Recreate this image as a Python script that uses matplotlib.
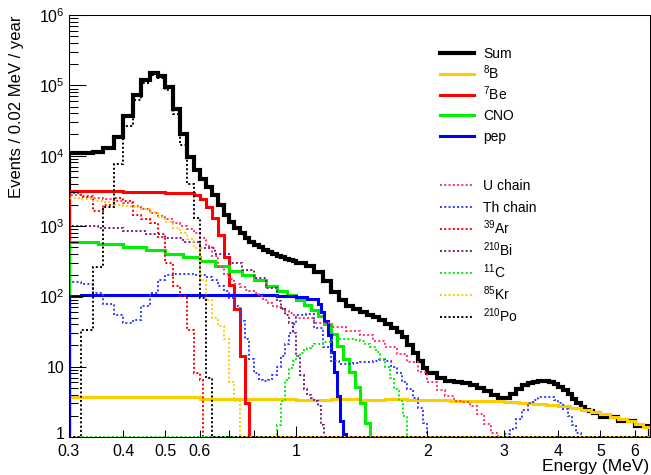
import matplotlib
matplotlib.use('Agg')
import matplotlib.pyplot as plt
import numpy as np
from matplotlib.lines import Line2D
from matplotlib.transforms import ScaledTranslation
from matplotlib.ticker import FixedLocator, FixedFormatter, FuncFormatter, NullFormatter

plt.rcParams['font.family'] = ['Liberation Sans', 'DejaVu Sans']
plt.rcParams['mathtext.fontset'] = 'custom'
plt.rcParams['mathtext.rm'] = 'Liberation Sans'
plt.rcParams['mathtext.it'] = 'Liberation Sans:italic'
plt.rcParams['mathtext.bf'] = 'Liberation Sans:bold'

YMIN, YMAX = 1.0, 1e6
XMIN, XMAX = 0.3, 6.5
W, H = 651, 475


def grid(*parts):
    # bin edges from (start, stop, width) pieces, (start, stop) = one bin
    edges = []
    for p in parts:
        a, b = p[0], p[1]
        w = p[2] if len(p) > 2 else b - a
        n = int(round((b - a) / w))
        edges.extend(np.round(a + w * np.arange(n), 4))
    edges.append(parts[-1][1])
    return np.array(edges)


# ---- histograms (events / 0.02 MeV / year) ----
sum_edges = grid((0.30, 1.00, 0.02), (1.00, 2.00, 0.05), (2.00, 4.80, 0.1),
                 (4.80, 5.00), (5.00, 6.50, 0.5))
sum_vals = [1.08e4, 1.09e4, 1.12e4, 1.27e4, 1.86e4, 3.66e4, 7.3e4, 1.19e5, 1.50e5, 1.37e5,
            9.5e4, 4.6e4, 2.0e4, 9.6e3, 6.2e3, 4.7e3, 3.6e3, 2.8e3, 2.0e3, 1.45e3,
            1.15e3, 930, 790, 680, 600, 540, 495, 460, 425, 400,
            380, 360, 345, 330, 315,
            300, 270, 225, 165, 115, 88, 72, 65, 60, 55,
            51, 46, 41, 36, 31, 26, 20, 15.5, 12, 9.5,
            8.0, 6.9, 6.3, 6.1, 5.9, 5.5, 5.0, 4.5, 4.0, 3.6,
            3.6, 4.1, 4.8, 5.4, 5.8, 6.0, 6.2, 6.25, 6.0, 5.6,
            5.1, 4.6, 4.1, 3.5, 3.0, 2.65, 2.45, 2.35,
            2.2, 1.95, 1.7, 1.45]

b8_edges = grid((0.3, 1.0, 0.1), (1.0, 2.0, 0.2), (2.0, 6.5, 0.25))
b8_vals = [3.7, 3.75, 3.65, 3.5, 3.45, 3.5, 3.45,
           3.4, 3.45, 3.4, 3.45, 3.35,
           3.4, 3.3, 3.25, 3.2, 3.1, 3.05, 2.95, 2.85, 2.75, 2.6, 2.45, 2.3,
           2.1, 1.95, 1.8, 1.7, 1.55, 1.4]

be7_edges = [0.30, 0.40, 0.50, 0.58, 0.60, 0.62, 0.64, 0.66, 0.68, 0.70, 0.72, 0.74, 0.76, 0.78]
be7_vals = [3.1e3, 3.05e3, 2.95e3, 2.76e3, 2.42e3, 1.88e3, 1.29e3, 745, 366, 146, 67, 14, 3.0]

cno_edges = grid((0.30, 1.00, 0.05), (1.00, 1.48, 0.04))
cno_vals = [600, 550, 500, 450, 405, 365, 320, 270, 230, 200, 170, 142, 120, 103,
            88, 76, 64, 52, 40, 29, 19.5, 13, 8.5, 5.2, 3.0, 1.6]

pep_edges = [0.30, 0.32, 0.50, 0.70, 0.90, 1.00, 1.06, 1.12, 1.14, 1.16, 1.18,
             1.20, 1.22, 1.24, 1.26, 1.28, 1.30]
pep_vals = [100, 106, 105, 104, 101, 97, 92, 78, 60, 44, 28, 16, 8.5, 3.8, 1.7, 1.1]

u_edges = grid((0.30, 1.00, 0.02), (1.00, 2.90, 0.1), (2.90, 6.50))
u_vals = [2.75e3, 2.65e3, 2.5e3, 2.4e3, 2.25e3, 2.15e3, 1.95e3, 1.75e3, 1.55e3, 1.4e3,
          1.25e3, 1.1e3, 1.0e3, 920, 800, 680, 520, 380, 260, 205,
          175, 150, 135, 125, 118, 110, 100, 90, 80, 74,
          70, 66, 62, 58, 55,
          50, 42, 37, 32, 28, 23, 19, 15, 11.5, 8.5,
          6.0, 4.6, 3.8, 3.3, 3.1, 2.8, 2.1, 1.55, 1.15,
          0]

th_edges = grid((0.30, 1.00, 0.02), (1.00, 2.00, 0.05), (2.00, 3.00),
                (3.00, 4.50, 0.1), (4.50, 6.50))
th_vals = [160, 150, 110, 78, 55, 42, 46, 72, 110, 170,
           200, 210, 205, 205, 202, 200, 190, 170, 140, 120,
           95, 72, 45, 25, 13, 8, 6.5, 6.3, 6.5, 7.5,
           10, 14, 21, 30, 40,
           54, 57, 36, 19, 12, 10.8, 11, 11.2, 11.5, 11.5,
           12, 12.3, 12, 10, 8, 6, 4.8, 3.6, 2.6, 1.6,
           0,
           1.1, 1.3, 1.8, 2.4, 3.0, 3.4, 3.65, 3.75, 3.65, 3.4,
           3.0, 2.5, 2.0, 1.5, 1.15,
           0]

ar_edges = grid((0.30, 0.60, 0.02), (0.60, 0.61), (0.61, 6.50))
ar_vals = [2.9e3, 2.6e3, 1.65e3, 2.0e3, 2.5e3, 2.3e3, 1.45e3, 1.25e3, 1.1e3, 700,
           300, 140, 100, 33, 8, 6.5, 0]

bi_edges = grid((0.30, 0.90, 0.05), (0.90, 1.16, 0.02), (1.16, 6.50))
bi_vals = [1.0e3, 950, 860, 770, 680, 590, 490, 400, 300, 235, 180, 130,
           85, 68, 55, 42, 30, 14, 7.5, 4.8, 4.0, 3.6, 3.2, 2.8, 1.5,
           0]

c11_edges = grid((0.30, 0.90), (0.90, 1.10, 0.02), (1.10, 1.40, 0.05),
                 (1.40, 1.80, 0.04), (1.80, 6.50))
c11_vals = [0,
            1.5, 3.3, 6.5, 9.5, 12, 14, 15.5, 17, 18.5, 19.5,
            21, 22.5, 24, 24.5, 24.5, 24,
            23, 21, 19, 16, 13, 10, 7, 4.8, 3.2, 2.0,
            0]

kr_edges = grid((0.30, 0.74, 0.02), (0.74, 6.50))
kr_vals = [2.5e3, 2.4e3, 2.3e3, 2.2e3, 2.0e3, 1.95e3, 1.85e3, 1.75e3, 1.6e3, 1.35e3,
           1.15e3, 950, 800, 650, 480, 170, 90, 50, 38, 25, 6, 3.2, 0]

po_edges = grid((0.30, 0.64, 0.02), (0.64, 6.50))
po_vals = [0, 33, 265, 1.85e3, 7.5e3, 2.6e4, 6.25e4, 1.08e5, 1.38e5, 1.27e5,
           8.6e4, 3.9e4, 1.4e4, 4.0e3, 1.3e3, 94, 6.8, 0]

solid_labels = ['Sum', '$^{8}$B', '$^{7}$Be', 'CNO', 'pep']
dotted_labels = ['U chain', 'Th chain', '$^{39}$Ar', '$^{210}$Bi', '$^{11}$C',
                 '$^{85}$Kr', '$^{210}$Po']

x_labelled = [0.3, 0.4, 0.5, 0.6, 2, 3, 4, 5, 6]
x_minor = [0.3, 0.4, 0.5, 0.6, 0.7, 0.8, 0.9, 2, 3, 4, 5, 6]

DOTS = (0, (1, 1.2))


def draw(ax, edges, values, color, lw, ls='-'):
    # empty bins sit on the bottom frame, like ROOT does on a log axis
    v = np.asarray(values, dtype=float)
    v = np.where(v > 0, v, YMIN)
    ax.stairs(v, edges, baseline=YMIN, edgecolor=color, linewidth=lw, linestyle=ls)
    return (color, lw, ls)


def legend_block(fig, styles, labels, top, pitch):
    # frameless ROOT-like legend, one row per entry
    for i, ((color, lw, ls), lab) in enumerate(zip(styles, labels)):
        y = 1 - (top + i * pitch) / H
        fig.add_artist(Line2D([440 / W, 474 / W], [y, y], transform=fig.transFigure,
                              color=color, linewidth=lw, linestyle=ls))
        fig.text(483 / W, y - 5 / H, lab, fontsize=10, va='baseline', ha='left')


def plot_spectrum():
    fig = plt.figure(figsize=(W / 100, H / 100), dpi=100)
    ax = fig.add_axes([69 / W, 38 / H, 581 / W, 422 / H])
    ax.set_xscale('log')
    ax.set_yscale('log')

    thick = 2.2
    solid = [
        draw(ax, sum_edges, sum_vals, 'black', 3.0),
        draw(ax, b8_edges, b8_vals, '#ffcc00', thick),
        draw(ax, be7_edges, be7_vals, '#ff0000', thick),
        draw(ax, cno_edges, cno_vals, '#00ee00', thick),
        draw(ax, pep_edges, pep_vals, '#0000ff', thick),
    ]
    dotted = [
        draw(ax, u_edges, u_vals, '#ff3366', 1.4, DOTS),
        draw(ax, th_edges, th_vals, '#2f3cff', 1.4, DOTS),
        draw(ax, ar_edges, ar_vals, '#ff0000', 1.4, DOTS),
        draw(ax, bi_edges, bi_vals, '#7a1a7a', 1.4, DOTS),
        draw(ax, c11_edges, c11_vals, '#00ee00', 1.4, DOTS),
        draw(ax, kr_edges, kr_vals, '#ffcc00', 1.4, DOTS),
        draw(ax, po_edges, po_vals, 'black', 1.4, DOTS),
    ]

    ax.set_xlim(XMIN, XMAX)
    ax.set_ylim(YMIN, YMAX)

    # x axis: ROOT style labels
    ax.xaxis.set_major_locator(FixedLocator([1]))
    ax.xaxis.set_major_formatter(FixedFormatter(['1']))
    ax.xaxis.set_minor_locator(FixedLocator(x_minor))
    ax.xaxis.set_minor_formatter(FuncFormatter(
        lambda v, pos: ('%g' % v) if any(abs(v - t) < 1e-6 for t in x_labelled) else ''))
    # y axis: decades
    decades = [10.0 ** k for k in range(7)]
    ax.yaxis.set_major_locator(FixedLocator(decades))
    ax.yaxis.set_major_formatter(FixedFormatter(
        ['1', '10'] + ['$10^{%d}$' % k for k in range(2, 7)]))
    ax.yaxis.set_minor_locator(FixedLocator(
        [m * 10.0 ** k for k in range(6) for m in range(2, 10)]))
    ax.yaxis.set_minor_formatter(NullFormatter())

    ax.tick_params(axis='both', which='both', direction='in', width=0.75,
                   top=False, right=False, labelsize=11.5)
    ax.tick_params(axis='x', which='major', length=8, pad=5.3)
    ax.tick_params(axis='x', which='minor', length=5, pad=5.3)
    ax.tick_params(axis='y', which='major', length=12, pad=3)
    ax.tick_params(axis='y', which='minor', length=6.5)
    for s in ax.spines.values():
        s.set_linewidth(0.75)

    # lift the "1" on the y axis a little so it clears the "0.3" below it
    one = ax.yaxis.get_major_ticks()[0].label1
    one.set_transform(one.get_transform() + ScaledTranslation(0, 3 / 72, fig.dpi_scale_trans))

    fig.text(17 / W, 1 - 15 / H, 'Events / 0.02 MeV / year', rotation=90,
             ha='center', va='top', fontsize=12)
    fig.text(649 / W, 1 - 459.5 / H, 'Energy (MeV)', ha='right', va='top',
             fontsize=12.5)

    legend_block(fig, solid, solid_labels, 53, 20.8)
    legend_block(fig, dotted, dotted_labels, 185, 22.0)

    fig.savefig('out.png', dpi=100)


if __name__ == "__main__":
    plot_spectrum()
